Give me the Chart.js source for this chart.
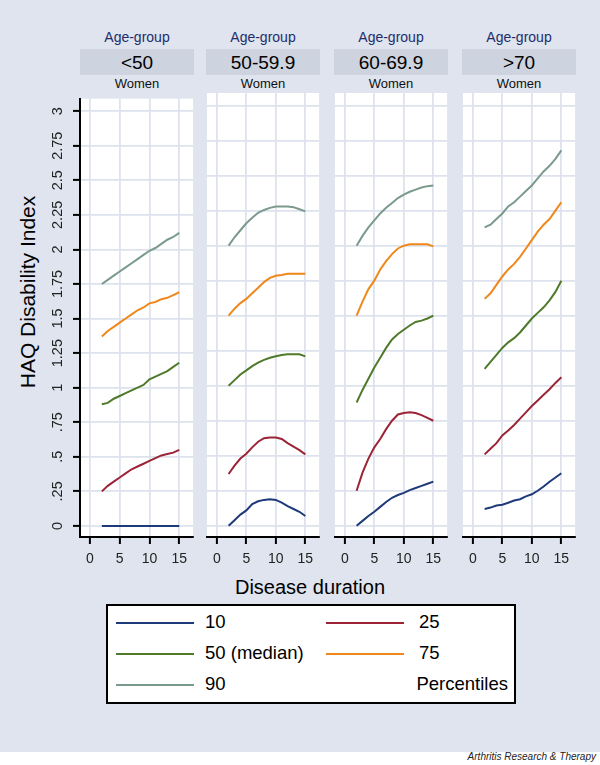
<!DOCTYPE html>
<html>
<head>
<meta charset="utf-8">
<script src="https://cdn.jsdelivr.net/npm/chart.js@4.4.1/dist/chart.umd.min.js"></script>
<style>
  body { margin: 0; }
  #fig { position: relative; width: 600px; height: 765px; background: #fff; overflow: hidden;
         font-family: "Liberation Sans", Arial, sans-serif; }
  #bg { position: absolute; left: 0; top: 0; width: 600px; height: 752px; background: #dfe4ee; }
  .grp { position: absolute; top: 29px; width: 114px; text-align: center; font-size: 14px; color: #1e2d6b; }
  .box { position: absolute; top: 49px; height: 26px; line-height: 27px; width: 114px; background: #cdd3df;
         text-align: center; font-size: 19px; color: #000; }
  .sex { position: absolute; top: 76px; width: 114px; text-align: center; font-size: 13px; color: #111; }
  .cv { position: absolute; }
  #ytitle { position: absolute; left: 28px; top: 292px; transform: translate(-50%, -50%) rotate(-90deg);
            white-space: nowrap; font-size: 21px; color: #000; }
  #xtitle { position: absolute; left: 310px; top: 587px; transform: translate(-50%, -50%);
            white-space: nowrap; font-size: 20px; color: #000; }
  #legend { position: absolute; left: 106px; top: 604px; width: 406px; height: 96px; background: #fff;
            border: 2px solid #000; }
  .lg-line { position: absolute; height: 2px; width: 78px; }
  .lg-text { position: absolute; font-size: 18.5px; color: #000; line-height: 20px; }
  #credit { position: absolute; right: 4px; top: 751px; font-size: 10px; font-style: italic; color: #222; }
</style>
</head>
<body>
<div id="fig">
  <div id="bg"></div>
  <div id="ytitle">HAQ Disability Index</div>
  <div id="xtitle">Disease duration</div>
  <div id="legend"></div>
  <div id="credit">Arthritis Research &amp; Therapy</div>
</div>
<script>
// disease duration (years) at which percentiles were read
const years = [2, 3, 4, 5, 6, 7, 8, 9, 10, 11, 12, 13, 14, 15];

const ageGroups = ['<50', '50-59.9', '60-69.9', '>70'];
const percentiles = ['10', '25', '50 (median)', '75', '90'];
const seriesColors = ['#1f3a78', '#9b2436', '#4f7a2b', '#f0871a', '#7a9a8c'];

// age < 50
const lt50_p10 = [0, 0, 0, 0, 0, 0, 0, 0, 0, 0, 0, 0, 0, 0];
const lt50_p25 = [0.25, 0.29, 0.32, 0.35, 0.38, 0.41, 0.43, 0.45, 0.47, 0.49, 0.51, 0.52, 0.53, 0.55];
const lt50_p50 = [0.88, 0.89, 0.92, 0.94, 0.96, 0.98, 1.00, 1.02, 1.06, 1.08, 1.10, 1.12, 1.15, 1.18];
const lt50_p75 = [1.37, 1.41, 1.44, 1.47, 1.50, 1.53, 1.56, 1.58, 1.61, 1.62, 1.64, 1.65, 1.67, 1.69];
const lt50_p90 = [1.75, 1.78, 1.81, 1.84, 1.87, 1.90, 1.93, 1.96, 1.99, 2.01, 2.04, 2.07, 2.09, 2.12];

// age 50-59.9
const a50_p10 = [0.0, 0.04, 0.08, 0.11, 0.155, 0.175, 0.185, 0.19, 0.185, 0.165, 0.14, 0.12, 0.10, 0.07];
const a50_p25 = [0.37, 0.43, 0.48, 0.515, 0.56, 0.60, 0.625, 0.63, 0.63, 0.62, 0.59, 0.565, 0.54, 0.51];
const a50_p50 = [1.00, 1.04, 1.08, 1.11, 1.14, 1.165, 1.185, 1.20, 1.21, 1.22, 1.225, 1.225, 1.225, 1.21];
const a50_p75 = [1.50, 1.55, 1.59, 1.62, 1.66, 1.70, 1.74, 1.77, 1.785, 1.79, 1.80, 1.80, 1.80, 1.80];
const a50_p90 = [2.00, 2.06, 2.11, 2.16, 2.20, 2.235, 2.255, 2.27, 2.28, 2.28, 2.28, 2.275, 2.26, 2.245];

// age 60-69.9
const a60_p10 = [0.0, 0.035, 0.07, 0.10, 0.135, 0.17, 0.20, 0.22, 0.235, 0.255, 0.27, 0.285, 0.30, 0.315];
const a60_p25 = [0.25, 0.38, 0.48, 0.56, 0.62, 0.69, 0.75, 0.795, 0.805, 0.81, 0.805, 0.79, 0.77, 0.75];
const a60_p50 = [0.88, 0.97, 1.05, 1.13, 1.20, 1.27, 1.33, 1.37, 1.40, 1.43, 1.455, 1.465, 1.48, 1.50];
const a60_p75 = [1.50, 1.60, 1.69, 1.75, 1.83, 1.89, 1.94, 1.98, 2.00, 2.01, 2.01, 2.01, 2.01, 1.995];
const a60_p90 = [2.00, 2.07, 2.13, 2.18, 2.23, 2.27, 2.305, 2.34, 2.365, 2.385, 2.40, 2.415, 2.425, 2.43];

// age > 70
const gt70_p10 = [0.12, 0.13, 0.145, 0.15, 0.165, 0.18, 0.19, 0.21, 0.225, 0.25, 0.28, 0.315, 0.345, 0.375];
const gt70_p25 = [0.51, 0.55, 0.59, 0.645, 0.68, 0.72, 0.765, 0.81, 0.855, 0.895, 0.935, 0.975, 1.02, 1.06];
const gt70_p50 = [1.12, 1.17, 1.22, 1.27, 1.31, 1.34, 1.38, 1.43, 1.48, 1.52, 1.56, 1.61, 1.67, 1.75];
const gt70_p75 = [1.62, 1.66, 1.72, 1.78, 1.83, 1.87, 1.92, 1.98, 2.04, 2.10, 2.15, 2.19, 2.25, 2.31];
const gt70_p90 = [2.13, 2.15, 2.19, 2.23, 2.28, 2.31, 2.35, 2.39, 2.43, 2.48, 2.53, 2.57, 2.62, 2.68];

const panelSeries = [
  [lt50_p10, lt50_p25, lt50_p50, lt50_p75, lt50_p90],
  [a50_p10, a50_p25, a50_p50, a50_p75, a50_p90],
  [a60_p10, a60_p25, a60_p50, a60_p75, a60_p90],
  [gt70_p10, gt70_p25, gt70_p50, gt70_p75, gt70_p90]
];

const xTicks = [0, 5, 10, 15];
const yTicks = [0, 0.25, 0.5, 0.75, 1, 1.25, 1.5, 1.75, 2, 2.25, 2.5, 2.75, 3];
const yTickLabels = ['0', '.25', '.5', '.75', '1', '1.25', '1.5', '1.75', '2', '2.25', '2.5', '2.75', '3'];

const plotLefts = [80, 206, 334, 462];
const plotW = 114;
const fig = document.getElementById('fig');
const FONT = '"Liberation Sans", Arial, sans-serif';

// white plot region behind the grid
const plotBg = {
  id: 'plotBg',
  beforeDraw(chart) {
    const a = chart.chartArea, ctx = chart.ctx;
    ctx.save();
    ctx.fillStyle = '#fff';
    ctx.fillRect(a.left, a.top, a.right - a.left, a.bottom - a.top);
    ctx.restore();
  }
};

ageGroups.forEach((g, i) => {
  const left = plotLefts[i];
  const grp = document.createElement('div');
  grp.className = 'grp'; grp.style.left = left + 'px'; grp.textContent = 'Age-group';
  fig.appendChild(grp);
  const box = document.createElement('div');
  box.className = 'box'; box.style.left = left + 'px'; box.textContent = g;
  fig.appendChild(box);
  const sex = document.createElement('div');
  sex.className = 'sex'; sex.style.left = left + 'px'; sex.textContent = 'Women';
  fig.appendChild(sex);

  const first = i === 0;
  const yW = first ? 40 : 0;
  const cv = document.createElement('canvas');
  cv.className = 'cv';
  const cw = plotW + yW, ch = 486;
  cv.width = cw; cv.height = ch;
  cv.style.width = cw + 'px'; cv.style.height = ch + 'px';
  cv.style.left = (left - yW) + 'px';
  cv.style.top = '89px';
  fig.appendChild(cv);

  new Chart(cv, {
    type: 'line',
    data: {
      datasets: panelSeries[i].map((vals, k) => ({
        label: percentiles[k],
        data: years.map((x, j) => ({ x: x, y: vals[j] })),
        borderColor: seriesColors[k],
        borderWidth: 2,
        pointRadius: 0,
        fill: false,
        tension: 0
      }))
    },
    options: {
      responsive: false,
      animation: false,
      layout: { padding: { top: 4, left: 0, right: 0, bottom: 0 } },
      plugins: { legend: { display: false }, tooltip: { enabled: false } },
      scales: {
        x: {
          type: 'linear',
          min: -1.67, max: 17.33,
          afterBuildTicks: s => { s.ticks = xTicks.map(v => ({ value: v })); },
          afterFit: s => { s.height = 38; },
          ticks: { autoSkip: false, maxRotation: 0, padding: 7, color: '#222',
                   font: { family: FONT, size: 14 } },
          grid: { color: '#dde2ec', lineWidth: 1.8, tickColor: '#000', tickLength: 7, tickWidth: 2 },
          border: { display: true, color: '#000', width: 2 }
        },
        y: {
          min: -0.08, max: 3.09,
          afterBuildTicks: s => { s.ticks = yTicks.map(v => ({ value: v })); },
          afterFit: s => { s.width = yW; },
          ticks: {
            display: first,
            autoSkip: false,
            minRotation: 90, maxRotation: 90,
            crossAlign: 'center',
            padding: 1,
            color: '#222',
            font: { family: FONT, size: 14.5 },
            callback: v => yTickLabels[yTicks.indexOf(v)]
          },
          grid: { color: '#dde2ec', lineWidth: 1.8, tickColor: '#000', tickLength: 7, tickWidth: 2,
                  drawTicks: first },
          border: { display: first, color: '#000', width: 2 }
        }
      }
    },
    plugins: [plotBg]
  });
});

// legend, built from the series names and colours
const legend = document.getElementById('legend');
const legendPos = [[0, 0], [1, 0], [0, 1], [1, 1], [0, 2]];
percentiles.forEach((p, k) => {
  const [col, row] = legendPos[k];
  const ln = document.createElement('div');
  ln.className = 'lg-line';
  ln.style.background = seriesColors[k];
  ln.style.left = (col ? 218 : 8) + 'px';
  ln.style.top = (16 + row * 31) + 'px';
  legend.appendChild(ln);
  const tx = document.createElement('div');
  tx.className = 'lg-text';
  tx.textContent = p;
  tx.style.left = (col ? 311 : 97) + 'px';
  tx.style.top = (6 + row * 31) + 'px';
  legend.appendChild(tx);
});
const pct = document.createElement('div');
pct.className = 'lg-text';
pct.textContent = 'Percentiles';
pct.style.right = '6px';
pct.style.top = '68px';
legend.appendChild(pct);
</script>
</body>
</html>
